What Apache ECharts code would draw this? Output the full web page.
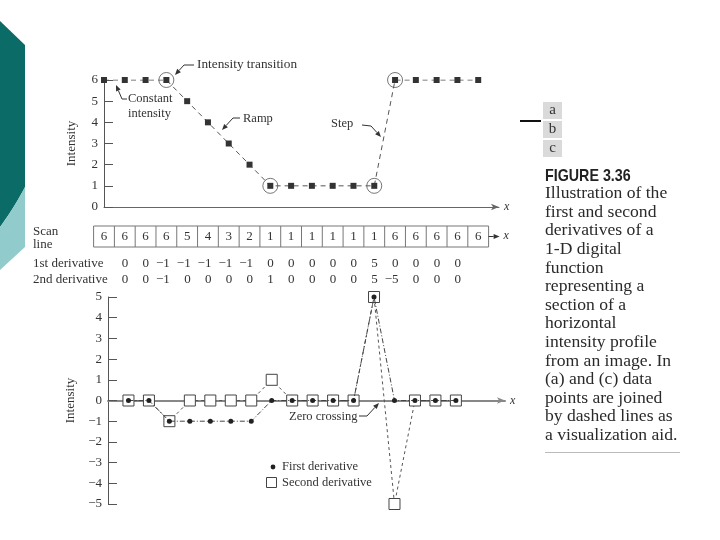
<!DOCTYPE html>
<html>
<head>
<meta charset="utf-8">
<style>
html, body { margin: 0; padding: 0; background: #fff; }
#main { width: 720px; height: 540px; }
</style>
<script src="https://cdn.jsdelivr.net/npm/echarts@6/dist/echarts.min.js"></script>
</head>
<body>
<div id="main"></div>
<script>
'use strict';

// values
var scanLine = [6, 6, 6, 6, 5, 4, 3, 2, 1, 1, 1, 1, 1, 1, 6, 6, 6, 6, 6];
var transitionIdx = [3, 8, 13, 14];
// derivatives start at the 2nd sample of the scan line
var derivStart = 1;
var firstDeriv = [0, 0, -1, -1, -1, -1, -1, 0, 0, 0, 0, 0, 5, 0, 0, 0, 0];
var secondDeriv = [0, 0, -1, 0, 0, 0, 0, 1, 0, 0, 0, 0, 5, -5, 0, 0, 0];
var topYRange = [0, 6];
var bottomYRange = [-5, 5];
var captionLines = [
    'Illustration of the',
    'first and second',
    'derivatives of a',
    '1-D digital',
    'function',
    'representing a',
    'section of a',
    'horizontal',
    'intensity profile',
    'from an image. In',
    '(a) and (c) data',
    'points are joined',
    'by dashed lines as',
    'a visualization aid.'
];

var SERIF = "'Liberation Serif', 'DejaVu Serif', serif";
var INK = '#333';

function minus(v) {
    return String(v).replace('-', '\u2212');
}

function pairs(arr, start) {
    return arr.map(function (v, i) {
        return [i + start, v];
    });
}

function yAxisOf(grid, range) {
    return {
        gridIndex: grid,
        type: 'value',
        min: range[0],
        max: range[1],
        interval: 1,
        name: 'Intensity',
        nameLocation: 'middle',
        nameGap: 26,
        nameTextStyle: { fontFamily: SERIF, fontSize: 13, color: INK },
        axisLine: { show: true, lineStyle: { color: '#555', width: 1 } },
        axisTick: { show: true, inside: true, length: 9, lineStyle: { color: '#555' } },
        axisLabel: { fontFamily: SERIF, fontSize: 13, color: INK, margin: 6, formatter: minus },
        splitLine: { show: false }
    };
}

function xAxisOf(grid, max, width) {
    return {
        gridIndex: grid,
        type: 'value',
        min: 0,
        max: max,
        name: 'x',
        nameGap: 5,
        nameTextStyle: { fontFamily: SERIF, fontSize: 12, fontStyle: 'italic', color: INK },
        axisLine: {
            show: true,
            onZero: true,
            symbol: ['none', 'arrow'],
            symbolSize: [5, 8],
            lineStyle: { color: width > 1 ? '#888' : '#666', width: width }
        },
        axisTick: { show: false },
        axisLabel: { show: false },
        splitLine: { show: false }
    };
}

var chart = echarts.init(document.getElementById('main'));

chart.setOption({
    animation: false,
    backgroundColor: '#fff',
    grid: [
        { left: 104, top: 80, width: 395, height: 127 },
        { left: 108, top: 297, width: 397, height: 207 }
    ],
    xAxis: [xAxisOf(0, 19, 1), xAxisOf(1, 19.4, 2)],
    yAxis: [yAxisOf(0, topYRange), yAxisOf(1, bottomYRange)],
    series: [
        {
            type: 'line',
            xAxisIndex: 0,
            yAxisIndex: 0,
            data: pairs(scanLine, 0),
            symbol: 'rect',
            symbolSize: 6,
            itemStyle: { color: INK },
            lineStyle: { color: '#555', width: 1, type: [5, 4] },
            z: 3
        },
        {
            type: 'scatter',
            xAxisIndex: 0,
            yAxisIndex: 0,
            data: transitionIdx.map(function (i) {
                return [i, scanLine[i]];
            }),
            symbol: 'circle',
            symbolSize: 15,
            itemStyle: { color: 'rgba(0,0,0,0)', borderColor: '#555', borderWidth: 1 },
            z: 4
        },
        {
            type: 'line',
            xAxisIndex: 1,
            yAxisIndex: 1,
            data: pairs(secondDeriv, derivStart),
            symbol: 'rect',
            symbolSize: 11,
            showAllSymbol: true,
            itemStyle: { color: '#fff', borderColor: '#444', borderWidth: 1 },
            lineStyle: { color: '#555', width: 1, type: [3, 3] },
            z: 3
        },
        {
            type: 'line',
            xAxisIndex: 1,
            yAxisIndex: 1,
            data: pairs(firstDeriv, derivStart),
            symbol: 'circle',
            symbolSize: 5,
            showAllSymbol: true,
            itemStyle: { color: '#222', borderWidth: 0 },
            lineStyle: { color: '#444', width: 1, type: [5, 2, 1, 2] },
            z: 4
        }
    ]
});

// ---------- annotations, table and caption ----------
function px(i) {
    return chart.convertToPixel({ gridIndex: 0 }, [i, 0])[0];
}

function text(x, y, str, extra, scaleX) {
    var style = {
        text: str,
        fontFamily: SERIF,
        fontSize: 13,
        fill: INK,
        align: 'left',
        textAlign: 'left',
        verticalAlign: 'middle',
        textVerticalAlign: 'middle'
    };
    for (var k in extra) {
        style[k] = extra[k];
    }
    var el = { type: 'text', x: x, y: y, style: style, z: 10 };
    if (scaleX) {
        el.scaleX = scaleX;
    }
    return el;
}

function leader(pts) {
    var n = pts.length;
    var tip = pts[n - 1];
    var prev = pts[n - 2];
    var dx = tip[0] - prev[0];
    var dy = tip[1] - prev[1];
    var len = Math.sqrt(dx * dx + dy * dy);
    var ux = dx / len;
    var uy = dy / len;
    var bx = tip[0] - ux * 6;
    var by = tip[1] - uy * 6;
    return [
        {
            type: 'polyline',
            shape: { points: pts.slice(0, n - 1).concat([[bx, by]]) },
            style: { stroke: INK, lineWidth: 1, fill: null },
            z: 10
        },
        {
            type: 'polygon',
            shape: { points: [tip, [bx - uy * 2.5, by + ux * 2.5], [bx + uy * 2.5, by - ux * 2.5]] },
            style: { fill: INK },
            z: 10
        }
    ];
}

// curved seam between the two teal blocks, from (25,187) down to (0,227)
function seam() {
    var out = [];
    for (var t = 0; t <= 1.0001; t += 0.1) {
        var a = (1 - t) * (1 - t);
        var b = 2 * t * (1 - t);
        var c = t * t;
        out.push([a * 25 + b * 14 + c * 0, a * 187 + b * 208 + c * 227]);
    }
    return out;
}

var g = [];

// slide decoration on the left
g.push({
    type: 'polygon',
    shape: { points: [[0, 21], [25, 45]].concat(seam()) },
    style: { fill: '#0b6b66' }
});
g.push({
    type: 'polygon',
    shape: { points: seam().concat([[0, 270], [25, 247]]) },
    style: { fill: '#92cbcb' }
});

// top chart notes
g.push(text(197, 65, 'Intensity transition', { fontSize: 13.3 }));
g = g.concat(leader([[194, 65], [184, 65], [175, 75]]));
g.push(text(128, 99, 'Constant', { fontSize: 12.5 }));
g.push(text(128, 114, 'intensity', { fontSize: 12.5 }));
g = g.concat(leader([[127, 99], [122, 99], [116, 85]]));
g.push(text(243, 119, 'Ramp', { fontSize: 12.5 }));
g = g.concat(leader([[240, 118], [233, 118], [222, 130]]));
g.push(text(331, 124, 'Step', { fontSize: 12.5 }));
g = g.concat(leader([[362, 125], [371, 126], [381, 137]]));

// scan line table
var half = (px(1) - px(0)) / 2;
var tableTop = 226;
var tableH = 21;
g.push({
    type: 'rect',
    shape: { x: px(0) - half, y: tableTop, width: px(scanLine.length - 1) - px(0) + 2 * half, height: tableH },
    style: { fill: null, stroke: '#777', lineWidth: 1 },
    z: 10
});
scanLine.forEach(function (v, i) {
    if (i > 0) {
        g.push({
            type: 'line',
            shape: { x1: px(i) - half, y1: tableTop, x2: px(i) - half, y2: tableTop + tableH },
            style: { stroke: '#777', lineWidth: 1 },
            z: 10
        });
    }
    g.push(text(px(i), tableTop + tableH / 2, String(v), { align: 'center', textAlign: 'center' }));
});
var tableEnd = px(scanLine.length - 1) + half;
g = g.concat(leader([[tableEnd, 236.5], [tableEnd + 11, 236.5]]));
g.push(text(tableEnd + 15, 236, 'x', { fontSize: 12, fontStyle: 'italic' }));
g.push(text(33, 232, 'Scan'));
g.push(text(33, 245, 'line'));
g.push(text(33, 264, '1st derivative'));
g.push(text(33, 280, '2nd derivative'));
firstDeriv.forEach(function (v, i) {
    g.push(text(px(i + derivStart) + 3.5, 264, minus(v), { align: 'right', textAlign: 'right' }));
});
secondDeriv.forEach(function (v, i) {
    g.push(text(px(i + derivStart) + 3.5, 280, minus(v), { align: 'right', textAlign: 'right' }));
});

// bottom chart notes
g.push(text(289, 417, 'Zero crossing', { fontSize: 12.5 }));
g = g.concat(leader([[359, 416], [367, 416], [379, 403]]));
g.push({ type: 'circle', shape: { cx: 273, cy: 467, r: 2.4 }, style: { fill: '#222' }, z: 10 });
g.push(text(282, 467, 'First derivative', { fontSize: 12.5 }));
g.push({
    type: 'rect',
    shape: { x: 266.5, y: 477.5, width: 10, height: 10 },
    style: { fill: '#fff', stroke: '#444', lineWidth: 1 },
    z: 10
});
g.push(text(282, 483, 'Second derivative', { fontSize: 12.5 }));

// caption
['a', 'b', 'c'].forEach(function (s, i) {
    var y = 102 + i * 19;
    g.push({ type: 'rect', shape: { x: 543, y: y, width: 19, height: 17 }, style: { fill: '#dadada' } });
    g.push(text(552.5, y + 8.5, s, { fontSize: 15, align: 'center', textAlign: 'center' }));
});
g.push({
    type: 'line',
    shape: { x1: 520, y1: 121, x2: 541, y2: 121 },
    style: { stroke: '#111', lineWidth: 2 }
});
g.push(text(545, 176, 'FIGURE 3.36', {
    fontFamily: "'Liberation Sans', Arial, sans-serif",
    fontWeight: 'bold',
    fontSize: 17,
    fill: '#222'
}, 0.84));
captionLines.forEach(function (s, i) {
    g.push(text(545, 194 + i * 18.6, s, { fontSize: 16, fill: '#2a2a2a' }, 1.1));
});
g.push({
    type: 'line',
    shape: { x1: 545, y1: 452.5, x2: 680, y2: 452.5 },
    style: { stroke: '#bbb', lineWidth: 1 }
});

chart.setOption({ graphic: { elements: g } });
</script>
</body>
</html>
